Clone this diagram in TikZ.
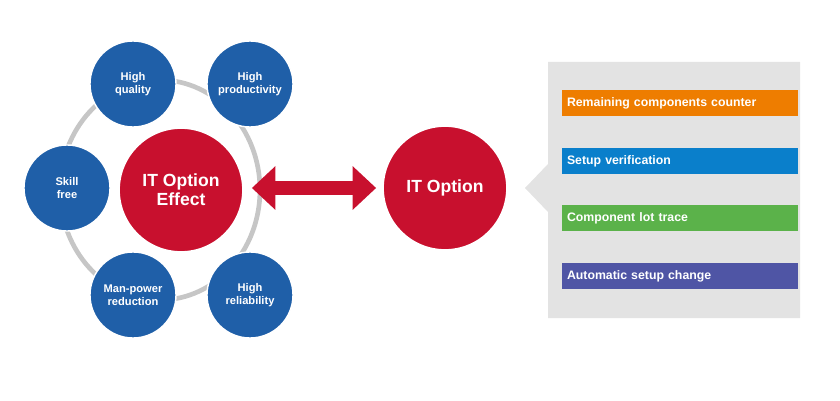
\documentclass[tikz,border=0pt]{standalone}
\usepackage{fontspec}
\setmainfont{Liberation Sans}
\usetikzlibrary{arrows.meta}
\definecolor{ballblue}{HTML}{1F5FA8}
\definecolor{ballred}{HTML}{C8102E}
\definecolor{barorange}{HTML}{EE7D00}
\definecolor{barblue}{HTML}{0A7FCB}
\definecolor{bargreen}{HTML}{5BB24A}
\definecolor{barpurple}{HTML}{4F55A5}
\newlength{\pxu}
\setlength{\pxu}{0.03cm}
\tikzset{
  effect/.style={circle, fill=ballblue, draw=white, line width=1.2pt, minimum size=86\pxu, text=white, font=\fontsize{9.5}{11}\selectfont\bfseries, align=center, inner sep=0pt},
  bigball/.style={circle, fill=ballred, draw=white, line width=1.5pt, minimum size=124\pxu, text=white, font=\fontsize{15}{16}\selectfont\bfseries, align=center, inner sep=0pt},
  bar/.style={fill=#1, text=white, font=\fontsize{10.5}{11}\selectfont\bfseries, minimum width=236\pxu, minimum height=26\pxu, text width=226\pxu, align=left, inner sep=0pt}
}
\begin{document}
\begin{tikzpicture}[x=0.03cm, y=-0.03cm]
  \useasboundingbox (0,0) rectangle (840,401);
  % ring behind the effects
  \draw[gray!45, line width=4pt] (160,190) ellipse [x radius=100, y radius=110];
  \node[effect] (quality) at (133,84) {High\\quality};
  \node[effect] (productivity) at (250,84) {High\\productivity};
  \node[effect] (skill) at (67,188) {Skill\\free};
  \node[effect] (manpower) at (133,295) {Man-power\\reduction};
  \node[effect] (reliability) at (250,295) {High\\reliability};
  \node[bigball] (effectball) at (181,190) {IT Option\\Effect};
  \node[bigball] (option) at (445,188) {IT Option};
  \draw[{Triangle[width=36pt,length=20pt]}-{Triangle[width=36pt,length=20pt]}, ballred, line width=12pt]
    ([xshift=8\pxu, yshift=2\pxu]effectball.east) -- ([xshift=-6\pxu]option.west);
  % panel with pointer
  \fill[gray!22] (548,62) -- (800,62) -- (800,318) -- (548,318) -- (548,212) -- (525,188) -- (548,164) -- cycle;
  \node[bar=barorange] (counter) at (680,103) {Remaining components counter};
  \node[bar=barblue] (verify) at (680,161) {Setup verification};
  \node[bar=bargreen] (trace) at (680,218) {Component lot trace};
  \node[bar=barpurple] (change) at (680,276) {Automatic setup change};
\end{tikzpicture}
\end{document}
